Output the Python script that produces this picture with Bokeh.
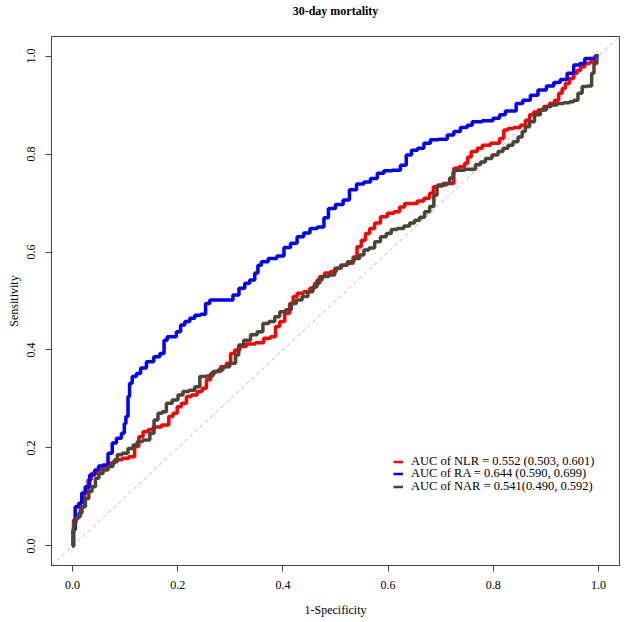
from bokeh.plotting import figure
from bokeh.models import Range1d, Slope, Legend, LegendItem, FixedTicker, PrintfTickFormatter, Title
from bokeh.embed import file_html
from bokeh.resources import INLINE

FONT = "Liberation Serif"
title_text = "30-day mortality"
x_label = "1-Specificity"
y_label = "Sensitivity"
tick_values = [0.0, 0.2, 0.4, 0.6, 0.8, 1.0]

series_labels = [
    "AUC of NLR = 0.552 (0.503, 0.601)",
    "AUC of RA = 0.644 (0.590, 0.699)",
    "AUC of NAR = 0.541(0.490, 0.592)",
]
series_colors = ["#FF0000", "#0000FF", "#4A4536"]

nlr_fpr = [0, 0.004, 0.012, 0.018, 0.028, 0.031, 0.040, 0.050, 0.066, 0.072, 0.088, 0.101, 0.113,
           0.123, 0.129, 0.139, 0.148, 0.158, 0.180, 0.186, 0.196, 0.202, 0.212, 0.221, 0.231,
           0.243, 0.250, 0.259, 0.266, 0.275, 0.288, 0.297, 0.304, 0.313, 0.323, 0.338, 0.357,
           0.370, 0.383, 0.389, 0.399, 0.408, 0.418, 0.421, 0.433, 0.446, 0.456, 0.465, 0.475,
           0.484, 0.497, 0.506, 0.516, 0.529, 0.538, 0.544, 0.554, 0.560, 0.570, 0.579, 0.592,
           0.605, 0.617, 0.627, 0.636, 0.649, 0.662, 0.674, 0.684, 0.688, 0.700, 0.722, 0.728,
           0.741, 0.750, 0.753, 0.763, 0.776, 0.782, 0.807, 0.817, 0.823, 0.833, 0.845, 0.858,
           0.864, 0.874, 0.880, 0.890, 0.902, 0.912, 0.921, 0.928, 0.934, 0.940, 0.950, 0.956,
           0.963, 0.969, 0.979, 0.988, 1.0]
nlr_tpr = [0, 0.053, 0.060, 0.080, 0.108, 0.135, 0.148, 0.155, 0.162, 0.169, 0.176, 0.179, 0.182,
           0.203, 0.223, 0.233, 0.237, 0.243, 0.247, 0.264, 0.271, 0.284, 0.291, 0.305, 0.308,
           0.315, 0.322, 0.339, 0.352, 0.356, 0.366, 0.373, 0.393, 0.400, 0.407, 0.412, 0.415,
           0.424, 0.427, 0.448, 0.458, 0.475, 0.495, 0.509, 0.516, 0.519, 0.526, 0.536, 0.550,
           0.557, 0.560, 0.567, 0.573, 0.577, 0.590, 0.611, 0.624, 0.638, 0.648, 0.659, 0.672,
           0.679, 0.682, 0.692, 0.699, 0.699, 0.704, 0.710, 0.720, 0.733, 0.737, 0.740, 0.771,
           0.774, 0.781, 0.794, 0.805, 0.812, 0.818, 0.822, 0.832, 0.849, 0.852, 0.854, 0.859,
           0.869, 0.880, 0.886, 0.890, 0.897, 0.903, 0.910, 0.924, 0.934, 0.944, 0.954, 0.965,
           0.971, 0.978, 0.985, 0.988, 1.0]

ra_fpr = [0, 0.002, 0.008, 0.015, 0.020, 0.028, 0.037, 0.047, 0.052, 0.063, 0.072, 0.079, 0.088,
          0.098, 0.099, 0.104, 0.107, 0.110, 0.117, 0.126, 0.133, 0.148, 0.161, 0.171, 0.177,
          0.183, 0.193, 0.202, 0.209, 0.218, 0.228, 0.237, 0.250, 0.256, 0.266, 0.300, 0.310,
          0.323, 0.332, 0.342, 0.351, 0.354, 0.364, 0.380, 0.397, 0.407, 0.422, 0.432, 0.447,
          0.456, 0.475, 0.481, 0.492, 0.508, 0.521, 0.532, 0.548, 0.560, 0.573, 0.586, 0.598,
          0.617, 0.630, 0.639, 0.650, 0.662, 0.674, 0.687, 0.706, 0.719, 0.731, 0.744, 0.757,
          0.763, 0.795, 0.804, 0.820, 0.826, 0.839, 0.848, 0.864, 0.877, 0.893, 0.909, 0.921,
          0.934, 0.947, 0.959, 0.969, 0.979, 0.988, 1.0]
ra_tpr = [0, 0.033, 0.080, 0.087, 0.108, 0.121, 0.145, 0.155, 0.163, 0.165, 0.189, 0.210, 0.220,
          0.230, 0.250, 0.264, 0.305, 0.332, 0.346, 0.352, 0.363, 0.376, 0.386, 0.393, 0.420,
          0.427, 0.427, 0.437, 0.451, 0.458, 0.465, 0.471, 0.473, 0.495, 0.502, 0.502, 0.512,
          0.526, 0.536, 0.543, 0.557, 0.573, 0.580, 0.587, 0.592, 0.609, 0.618, 0.631, 0.639,
          0.648, 0.651, 0.670, 0.689, 0.697, 0.706, 0.727, 0.739, 0.743, 0.750, 0.761, 0.766,
          0.767, 0.777, 0.798, 0.808, 0.812, 0.822, 0.829, 0.830, 0.839, 0.846, 0.854, 0.859,
          0.866, 0.868, 0.873, 0.880, 0.888, 0.888, 0.903, 0.910, 0.920, 0.931, 0.939, 0.946,
          0.952, 0.965, 0.982, 0.985, 0.995, 0.995, 1.0]

nar_fpr = [0, 0.004, 0.009, 0.015, 0.021, 0.028, 0.034, 0.040, 0.047, 0.053, 0.063, 0.072, 0.082,
           0.088, 0.101, 0.110, 0.120, 0.126, 0.142, 0.152, 0.158, 0.167, 0.174, 0.183, 0.196,
           0.205, 0.215, 0.228, 0.237, 0.247, 0.262, 0.272, 0.281, 0.291, 0.307, 0.313, 0.319,
           0.332, 0.345, 0.357, 0.367, 0.380, 0.389, 0.399, 0.411, 0.421, 0.430, 0.443, 0.452,
           0.462, 0.468, 0.481, 0.494, 0.503, 0.516, 0.529, 0.541, 0.551, 0.557, 0.570, 0.579,
           0.592, 0.601, 0.611, 0.624, 0.636, 0.646, 0.655, 0.665, 0.674, 0.684, 0.690, 0.696,
           0.712, 0.722, 0.725, 0.731, 0.760, 0.772, 0.779, 0.791, 0.804, 0.814, 0.823, 0.833,
           0.842, 0.852, 0.858, 0.864, 0.874, 0.883, 0.896, 0.906, 0.915, 0.928, 0.940, 0.950,
           0.956, 0.966, 0.972, 0.985, 0.989, 0.994, 1.0]
nar_tpr = [0, 0.046, 0.057, 0.067, 0.080, 0.097, 0.111, 0.121, 0.138, 0.148, 0.155, 0.162, 0.172,
           0.186, 0.189, 0.199, 0.206, 0.213, 0.216, 0.230, 0.257, 0.271, 0.274, 0.291, 0.298,
           0.308, 0.315, 0.318, 0.325, 0.346, 0.347, 0.356, 0.359, 0.366, 0.373, 0.390, 0.410,
           0.420, 0.431, 0.437, 0.454, 0.458, 0.468, 0.478, 0.482, 0.495, 0.502, 0.509, 0.519,
           0.529, 0.543, 0.550, 0.553, 0.567, 0.573, 0.580, 0.587, 0.594, 0.604, 0.608, 0.621,
           0.631, 0.638, 0.646, 0.648, 0.653, 0.659, 0.665, 0.671, 0.682, 0.693, 0.716, 0.735,
           0.740, 0.751, 0.764, 0.767, 0.769, 0.778, 0.784, 0.791, 0.798, 0.805, 0.812, 0.818,
           0.825, 0.835, 0.846, 0.856, 0.866, 0.880, 0.890, 0.897, 0.900, 0.903, 0.905, 0.907,
           0.910, 0.924, 0.938, 0.939, 0.965, 0.985, 1.0]

p = figure(width=622, height=620, output_backend="svg", toolbar_location=None, title=None,
           x_range=Range1d(-0.04, 1.04), y_range=Range1d(-0.04, 1.04),
           min_border_left=51, min_border_right=3, min_border_top=36, min_border_bottom=55,
           background_fill_color="white", border_fill_color="white")

# an empty spacer title next to the frame pushes the real title up
spacer = Title(text=" ", text_font=FONT, text_font_size="10px", standoff=6)
p.add_layout(spacer, "above")
main_title = Title(text=title_text, align="center", text_font=FONT, text_font_size="12px",
                   text_font_style="bold", text_color="black", standoff=0)
p.add_layout(main_title, "above")

p.grid.visible = False
p.outline_line_color = "#444444"
p.outline_line_width = 1
p.outline_line_alpha = 1

for ax in (p.xaxis[0], p.yaxis[0]):
    ax.ticker = FixedTicker(ticks=tick_values)
    ax.formatter = PrintfTickFormatter(format="%.1f")
    ax.minor_tick_line_color = None
    ax.major_tick_out = 6
    ax.major_tick_in = 0
    ax.major_tick_line_color = "#444444"
    ax.axis_line_color = "#444444"
    ax.major_label_text_font = FONT
    ax.major_label_text_font_size = "12px"
    ax.major_label_text_color = "black"
    ax.axis_label_text_font = FONT
    ax.axis_label_text_font_size = "12px"
    ax.axis_label_text_font_style = "normal"
    ax.axis_label_text_color = "black"

p.xaxis.axis_label = x_label
p.yaxis.axis_label = y_label
p.xaxis.major_label_standoff = 9
p.yaxis.major_label_standoff = 10
p.xaxis.axis_label_standoff = 11
p.yaxis.axis_label_standoff = 4
p.yaxis.major_label_orientation = "vertical"

diag = Slope(gradient=1, y_intercept=0, line_color="#BBBBBB", line_dash="4 3", line_width=1,
             level="underlay")
p.add_layout(diag)

p.step(nlr_fpr, nlr_tpr, mode="center", line_color=series_colors[0], line_width=3.5)
p.step(ra_fpr, ra_tpr, mode="center", line_color=series_colors[1], line_width=3.5)
p.step(nar_fpr, nar_tpr, mode="center", line_color=series_colors[2], line_width=3.5)

# thinner proxy lines (single NaN point, nothing drawn in the plot) for the legend keys
proxies = [p.line([float("nan")], [float("nan")], line_color=c, line_width=2.5)
           for c in series_colors]

row_centers = [104, 91.5, 78.5]  # px above frame bottom
for lab, rend, yc in zip(series_labels, proxies, row_centers):
    lg = Legend(
        items=[LegendItem(label=lab, renderers=[rend])],
        location=(342, yc - 7.5), orientation="vertical",
        border_line_alpha=0, background_fill_alpha=0,
        padding=0, margin=0, spacing=0,
        glyph_width=10, glyph_height=13, label_height=13, label_standoff=8,
        label_text_font=FONT, label_text_font_size="12.5px", label_text_color="black",
    )
    p.add_layout(lg)

open("out.html", "w").write(file_html(p, INLINE))
